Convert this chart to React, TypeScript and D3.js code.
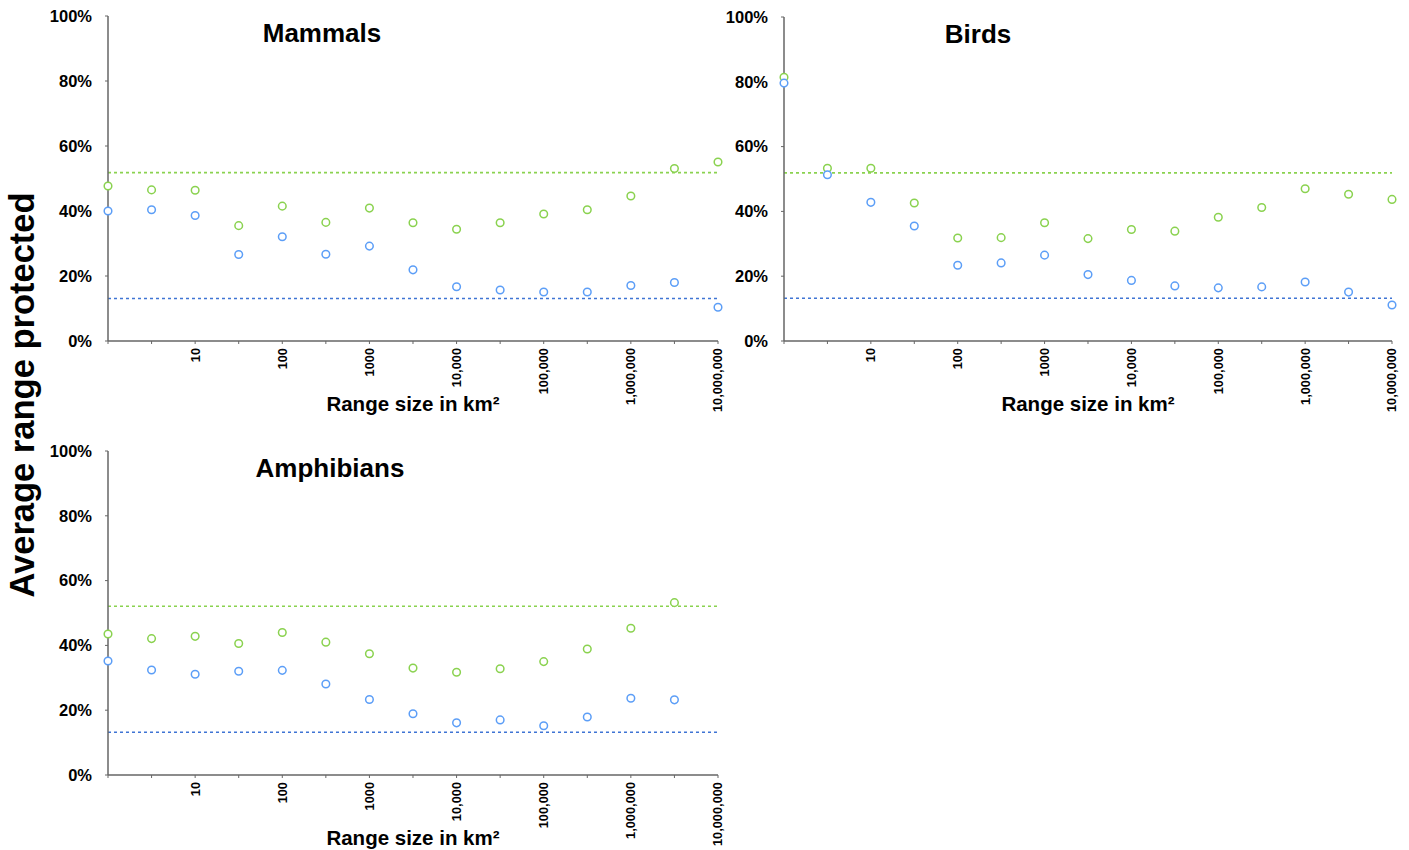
import { useMemo } from 'react';
import * as d3 from 'd3';

// range sizes (km²) at half-decade steps
const RANGE_SIZES = [1, 3.162, 10, 31.62, 100, 316.2, 1000, 3162, 10000, 31623, 100000, 316228, 1000000, 3162278, 10000000];
const X_TICK_VALUES = [10, 100, 1000, 10000, 100000, 1000000, 10000000];
const X_TICK_LABELS = ['10', '100', '1000', '10,000', '100,000', '1,000,000', '10,000,000'];
const Y_TICKS = [0, 20, 40, 60, 80, 100];

const MAMMALS_GREEN = [47.7, 46.5, 46.4, 35.5, 41.5, 36.5, 40.9, 36.4, 34.4, 36.4, 39.1, 40.4, 44.6, 53.1, 55.1];
const MAMMALS_BLUE = [40.0, 40.4, 38.6, 26.6, 32.1, 26.7, 29.2, 21.9, 16.7, 15.7, 15.1, 15.1, 17.1, 18.0, 10.4];
const BIRDS_GREEN = [81.4, 53.3, 53.3, 42.6, 31.8, 31.9, 36.5, 31.6, 34.4, 33.9, 38.2, 41.2, 47.0, 45.3, 43.7];
const BIRDS_BLUE = [79.6, 51.3, 42.8, 35.5, 23.4, 24.1, 26.5, 20.5, 18.7, 17.0, 16.4, 16.7, 18.2, 15.1, 11.1];
const AMPHIBIANS_GREEN = [43.5, 42.1, 42.8, 40.6, 44.0, 41.0, 37.4, 33.0, 31.7, 32.8, 35.0, 38.9, 45.3, 53.2];
const AMPHIBIANS_BLUE = [35.2, 32.4, 31.1, 32.0, 32.3, 28.1, 23.3, 18.9, 16.1, 17.0, 15.2, 17.9, 23.7, 23.2];

// reference lines (overall mean)
const GREEN_MEAN = [51.8, 51.9, 52.1];
const BLUE_MEAN = [13.1, 13.2, 13.2];

const GREEN = '#8ad24f';
const BLUE = '#5c9ef7';
const BLUE_LINE = '#3f74d4';
const AXIS = '#666';
const FONT = '"Liberation Sans", Arial, Helvetica, sans-serif';

type PanelSpec = {
    title: string;
    green: number[];
    blue: number[];
    greenMean: number;
    blueMean: number;
    left: number;
    right: number;
    top: number;
    bottom: number;
    titleX: number;
};

function Panel({ spec }: { spec: PanelSpec }) {
    const x = useMemo(() => d3.scaleLog().domain([1, 1e7]).range([spec.left, spec.right]), [spec]);
    const y = useMemo(() => d3.scaleLinear().domain([0, 100]).range([spec.bottom, spec.top]), [spec]);
    const [x0, x1] = x.range();

    return (
        <g>
            <text x={spec.titleX} y={spec.top + 26} textAnchor="middle" fontFamily={FONT} fontWeight={700} fontSize={26}>
                {spec.title}
            </text>

            {/* reference lines */}
            <line x1={x0} x2={x1} y1={y(spec.greenMean)} y2={y(spec.greenMean)} stroke={GREEN} strokeWidth={1.6} strokeDasharray="3,3" />
            <line x1={x0} x2={x1} y1={y(spec.blueMean)} y2={y(spec.blueMean)} stroke={BLUE_LINE} strokeWidth={1.6} strokeDasharray="3,3" />

            {/* y axis */}
            <line x1={x0} x2={x0} y1={y(100)} y2={y(0)} stroke={AXIS} strokeWidth={1.5} />
            {Y_TICKS.map((t) => (
                <g key={t}>
                    <line x1={x0 - 3} x2={x0} y1={y(t)} y2={y(t)} stroke={AXIS} strokeWidth={1} />
                    <text x={x0 - 16} y={y(t)} dy="0.35em" textAnchor="end" fontFamily={FONT} fontWeight={700} fontSize={16.5}>
                        {`${t}%`}
                    </text>
                </g>
            ))}

            {/* x axis */}
            <line x1={x0} x2={x1} y1={y(0)} y2={y(0)} stroke={AXIS} strokeWidth={1.5} />
            {RANGE_SIZES.map((v) => (
                <line key={v} x1={x(v)} x2={x(v)} y1={y(0)} y2={y(0) + 3} stroke={AXIS} strokeWidth={1} />
            ))}
            {X_TICK_VALUES.map((v, i) => (
                <text
                    key={v}
                    transform={`translate(${x(v)},${y(0) + 7}) rotate(-90)`}
                    dy="0.35em"
                    textAnchor="end"
                    fontFamily={FONT}
                    fontWeight={700}
                    fontSize={12.8}
                >
                    {X_TICK_LABELS[i]}
                </text>
            ))}
            <text x={(x0 + x1) / 2} y={y(0) + 70} textAnchor="middle" fontFamily={FONT} fontWeight={700} fontSize={20.5}>
                Range size in km²
            </text>

            {/* points */}
            {spec.green.map((v, i) => (
                <circle key={`g${i}`} cx={x(RANGE_SIZES[i])} cy={y(v)} r={3.8} fill="white" stroke={GREEN} strokeWidth={1.5} />
            ))}
            {spec.blue.map((v, i) => (
                <circle key={`b${i}`} cx={x(RANGE_SIZES[i])} cy={y(v)} r={3.8} fill="white" stroke={BLUE} strokeWidth={1.5} />
            ))}
        </g>
    );
}

const PANELS: PanelSpec[] = [
    { title: 'Mammals', green: MAMMALS_GREEN, blue: MAMMALS_BLUE, greenMean: GREEN_MEAN[0], blueMean: BLUE_MEAN[0], left: 108, right: 718, top: 16, bottom: 341, titleX: 322 },
    { title: 'Birds', green: BIRDS_GREEN, blue: BIRDS_BLUE, greenMean: GREEN_MEAN[1], blueMean: BLUE_MEAN[1], left: 784, right: 1392, top: 17, bottom: 341, titleX: 978 },
    { title: 'Amphibians', green: AMPHIBIANS_GREEN, blue: AMPHIBIANS_BLUE, greenMean: GREEN_MEAN[2], blueMean: BLUE_MEAN[2], left: 108, right: 718, top: 451, bottom: 775, titleX: 330 },
];

export default function App() {
    return (
        <svg
            width={1409}
            height={850}
            viewBox="0 0 1409 850"
            style={{ position: 'absolute', left: 0, top: 0, background: 'white' }}
        >
            <rect width={1409} height={850} fill="white" />
            <text
                transform="translate(34,395) rotate(-90)"
                textAnchor="middle"
                fontFamily={FONT}
                fontWeight={700}
                fontSize={34.5}
            >
                Average range protected
            </text>
            {PANELS.map((p) => (
                <Panel key={p.title} spec={p} />
            ))}
        </svg>
    );
}
